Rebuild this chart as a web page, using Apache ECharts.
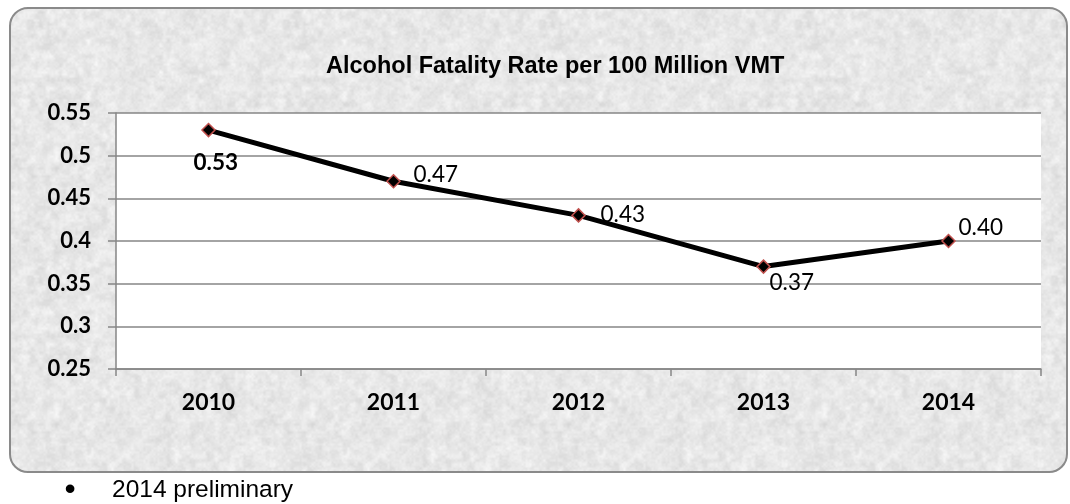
<!DOCTYPE html>
<html>
<head>
<meta charset="utf-8">
<script src="https://cdn.jsdelivr.net/npm/echarts@6/dist/echarts.min.js"></script>
<style>
  html, body { margin: 0; padding: 0; background: #ffffff; }
  #chart { width: 1070px; height: 504px; }
</style>
</head>
<body>
<div id="chart"></div>
<script>
// ---- data ----
const titleText = 'Alcohol Fatality Rate per 100 Million VMT';
const years = ['2010', '2011', '2012', '2013', '2014'];
const rates = [0.53, 0.47, 0.43, 0.37, 0.40];
const rateLabels = ['0.53', '0.47', '0.43', '0.37', '0.40'];
const yTickLabels = ['0.25', '0.3', '0.35', '0.4', '0.45', '0.5', '0.55'];
const footnote = '2014 preliminary';

// ---- decorative paper texture (deterministic hash noise) ----
function makeTexture() {
  const size = 256;
  const c = document.createElement('canvas');
  c.width = size; c.height = size;
  const ctx = c.getContext('2d');
  const img = ctx.createImageData(size, size);
  function hash(x, y, s) {
    let h = (x * 374761393 + y * 668265263 + s * 982451653) | 0;
    h = Math.imul(h ^ (h >>> 13), 1274126177);
    h = h ^ (h >>> 16);
    return ((h >>> 0) % 1000) / 1000;
  }
  function vnoise(x, y, cell, s) {
    const n = size / cell;
    const gx = x / cell, gy = y / cell;
    const x0 = Math.floor(gx), y0 = Math.floor(gy);
    const fx = gx - x0, fy = gy - y0;
    const sx = fx * fx * (3 - 2 * fx), sy = fy * fy * (3 - 2 * fy);
    const a = hash(x0 % n, y0 % n, s), b = hash((x0 + 1) % n, y0 % n, s);
    const cc = hash(x0 % n, (y0 + 1) % n, s), d = hash((x0 + 1) % n, (y0 + 1) % n, s);
    const top = a + (b - a) * sx, bot = cc + (d - cc) * sx;
    return top + (bot - top) * sy;
  }
  for (let y = 0; y < size; y++) {
    for (let x = 0; x < size; x++) {
      const v = 0.4 * vnoise(x, y, 8, 1) + 0.35 * vnoise(x, y, 4, 2) + 0.25 * vnoise(x, y, 2, 3);
      const g = Math.round(231 + (v - 0.5) * 34);
      const k = (y * size + x) * 4;
      img.data[k] = g; img.data[k + 1] = g; img.data[k + 2] = g; img.data[k + 3] = 255;
    }
  }
  ctx.putImageData(img, 0, 0);
  return c;
}

// ---- chart ----
const chart = echarts.init(document.getElementById('chart'), null, { renderer: 'canvas' });

const labelPlacement = [
  { dx: 8, dy: 33, weight: 'bold' },
  { dx: 43, dy: -6, weight: 'normal' },
  { dx: 45, dy: 0, weight: 'normal' },
  { dx: 29, dy: 17, weight: 'normal' },
  { dx: 33, dy: -13, weight: 'normal' }
];
const symbolSize = 13;

const seriesData = rates.map((v, i) => ({
  value: v,
  label: {
    show: true,
    position: [labelPlacement[i].dx + symbolSize / 2, labelPlacement[i].dy + symbolSize / 2],
    align: 'center',
    verticalAlign: 'middle',
    fontFamily: 'Lato, sans-serif',
    fontSize: 22.5,
    color: '#000',
    fontWeight: labelPlacement[i].weight,
    formatter: () => rateLabels[i]
  }
}));

const gridColor = '#868686';
const texture = makeTexture();

const option = {
  animation: false,
  backgroundColor: '#ffffff',
  graphic: [
    {
      type: 'rect',
      z: -10,
      silent: true,
      shape: { x: 10, y: 8, width: 1057, height: 464, r: 18 },
      style: { fill: { image: texture, repeat: 'repeat' }, stroke: '#8a8a8a', lineWidth: 2 }
    },
    {
      type: 'text',
      silent: true,
      style: {
        x: 70, y: 490, text: '\u2022', align: 'center', verticalAlign: 'middle',
        font: '32px "Liberation Sans", Arial, sans-serif', fill: '#000'
      }
    },
    {
      type: 'text',
      silent: true,
      style: {
        x: 112, y: 490, text: footnote, align: 'left', verticalAlign: 'middle',
        font: '24.5px "Liberation Sans", Arial, sans-serif', fill: '#000'
      }
    }
  ],
  title: {
    text: titleText,
    left: 326,
    top: 55,
    padding: 0,
    textStyle: {
      fontFamily: '"Liberation Sans", Arial, sans-serif',
      fontWeight: 'bold',
      fontSize: 23.5,
      color: '#000'
    }
  },
  grid: {
    left: 116, top: 113, width: 925, height: 256,
    show: true, backgroundColor: '#ffffff', borderWidth: 0,
    containLabel: false
  },
  xAxis: {
    type: 'category',
    data: years,
    boundaryGap: true,
    axisLine: { show: true, lineStyle: { color: gridColor, width: 1.5 } },
    axisTick: { show: true, length: 7, lineStyle: { color: gridColor, width: 1.5 } },
    axisLabel: {
      margin: 22,
      fontFamily: 'Lato, sans-serif', fontWeight: 'bold', fontSize: 23, color: '#000'
    },
    splitLine: { show: false }
  },
  yAxis: {
    type: 'value',
    min: 0.25, max: 0.55, interval: 0.05,
    axisLine: { show: true, lineStyle: { color: gridColor, width: 1.5 } },
    axisTick: { show: true, length: 8, lineStyle: { color: gridColor, width: 1.5 } },
    axisLabel: {
      margin: 25,
      fontFamily: 'Lato, sans-serif', fontWeight: 'bold', fontSize: 22, color: '#000',
      formatter: v => yTickLabels[Math.round((v - 0.25) / 0.05)]
    },
    splitLine: { show: true, lineStyle: { color: gridColor, width: 1.5 } }
  },
  series: [{
    type: 'line',
    data: seriesData,
    symbol: 'diamond',
    symbolSize: symbolSize,
    z: 3,
    lineStyle: { color: '#000', width: 5 },
    itemStyle: { color: '#000', borderColor: '#c0504d', borderWidth: 1.5 }
  }]
};

chart.setOption(option);
</script>
</body>
</html>
